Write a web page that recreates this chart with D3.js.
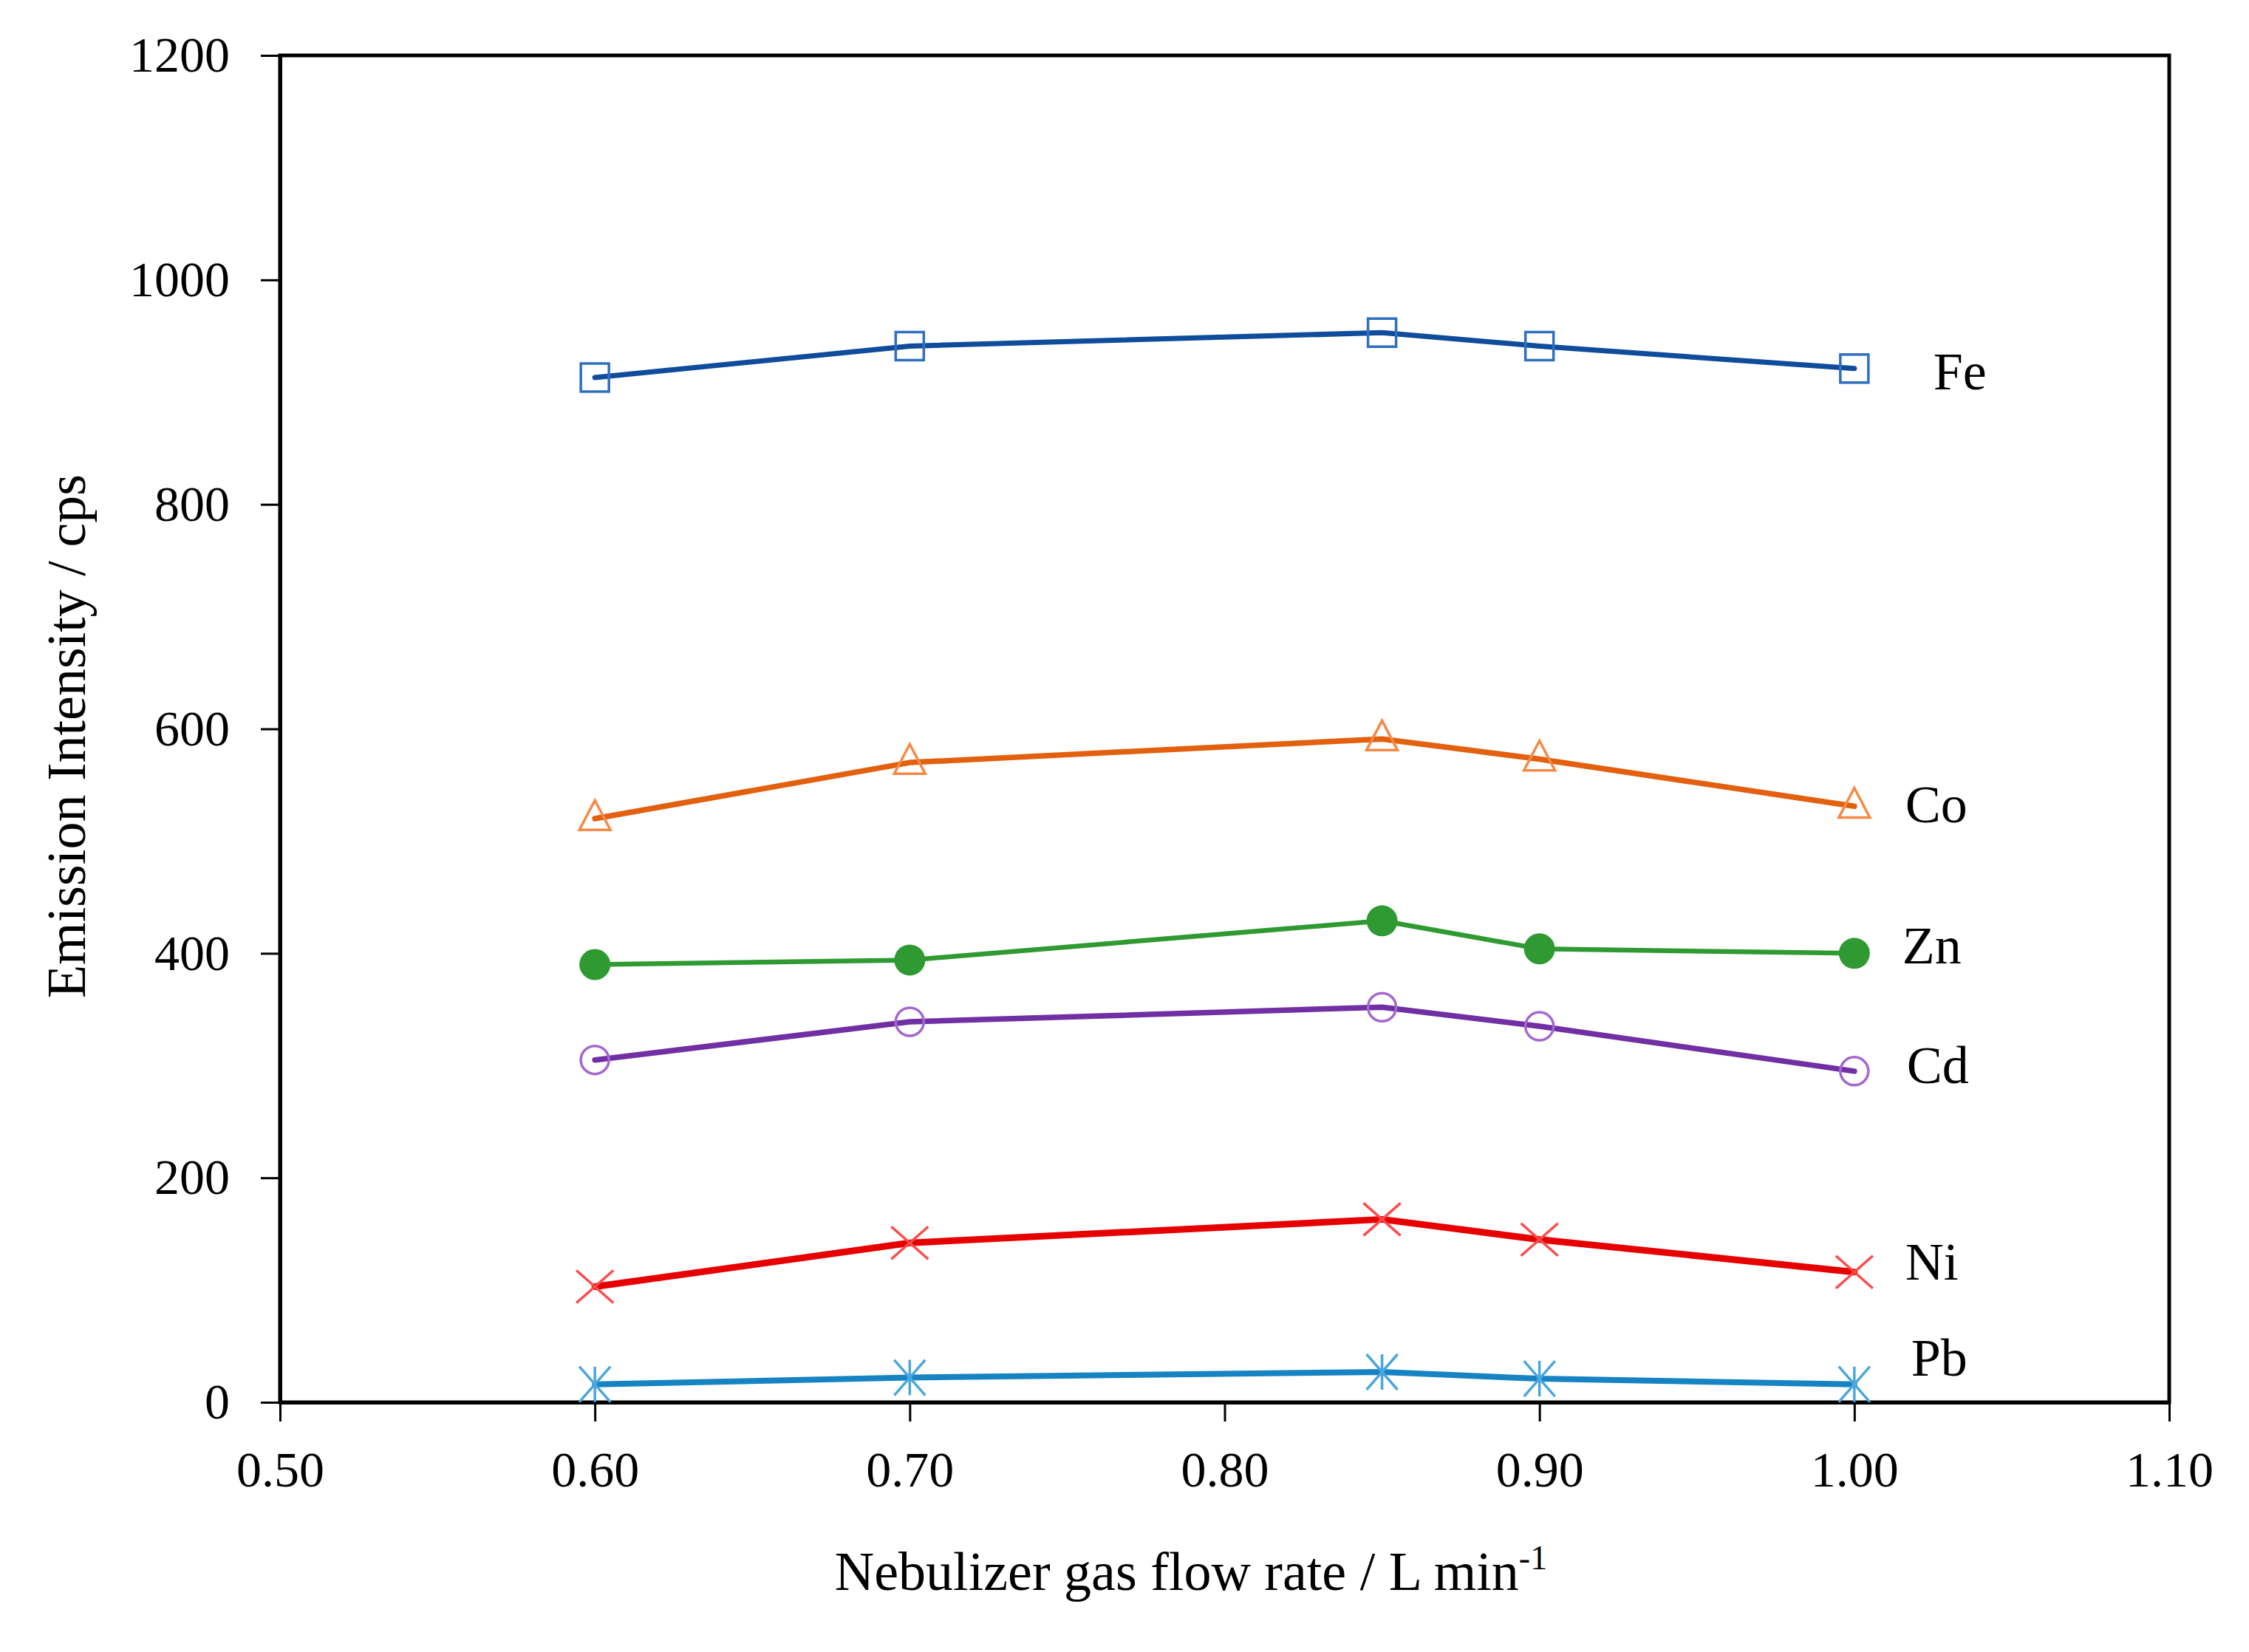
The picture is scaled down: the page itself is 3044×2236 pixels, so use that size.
<!DOCTYPE html>
<html>
<head>
<meta charset="utf-8">
<script src="https://cdn.jsdelivr.net/npm/d3@7/dist/d3.min.js"></script>
<style>
  html, body { margin: 0; padding: 0; background: #ffffff; }
  svg { display: block; }
  text { font-family: "Liberation Serif", "DejaVu Serif", serif; fill: #000; }
</style>
</head>
<body>
<svg id="chart" width="3044" height="2236"></svg>
<script>
// ---- data ----
const flowRates = [0.60, 0.70, 0.85, 0.90, 1.00];
const elements  = ["Fe", "Co", "Zn", "Cd", "Ni", "Pb"];
const feValues  = [913, 941, 953, 941, 921];
const coValues  = [520, 570, 591, 573, 531];
const znValues  = [390, 394, 429, 404, 400];
const cdValues  = [305, 339, 352, 335, 295];
const niValues  = [103, 142, 163, 145, 116];
const pbValues  = [16, 22, 27, 21, 16];
const xTickValues = [0.50, 0.60, 0.70, 0.80, 0.90, 1.00, 1.10];
const yTickValues = [0, 200, 400, 600, 800, 1000, 1200];
const xTitle = "Nebulizer gas flow rate / L min";
const xTitleSup = "-1";
const yTitle = "Emission Intensity / cps";

const seriesValues = { Fe: feValues, Co: coValues, Zn: znValues, Cd: cdValues, Ni: niValues, Pb: pbValues };

// ---- styles ----
const style = {
  Fe: { line: "#0f4c9c", marker: "#2f6fc0", shape: "square",   lw: 7 },
  Co: { line: "#e2600e", marker: "#f58a45", shape: "triangle", lw: 7.5 },
  Zn: { line: "#2f9a32", marker: "#2f9a32", shape: "dot",      lw: 6.5 },
  Cd: { line: "#7030a4", marker: "#a466cf", shape: "circle",   lw: 7.5 },
  Ni: { line: "#e60000", marker: "#ff4a4a", shape: "x",        lw: 9 },
  Pb: { line: "#1683c2", marker: "#4aa6de", shape: "star",     lw: 8 }
};
// label offsets relative to last point (px)
const labelOffset = {
  Fe: [107, 28], Co: [69, 22], Zn: [65, 14], Cd: [71, 16], Ni: [69, 10], Pb: [77, -12]
};

const margin = { left: 379, right: 3044 - 2936, top: 75, bottom: 2236 - 1898 };
const W = 3044, H = 2236;
const svg = d3.select("#chart");

const x = d3.scaleLinear().domain([0.5, 1.1]).range([margin.left, W - margin.right]);
const y = d3.scaleLinear().domain([0, 1200]).range([H - margin.bottom, margin.top]);

const fontSize = 68;

// frame
svg.append("rect")
  .attr("x", x(0.5)).attr("y", y(1200))
  .attr("width", x(1.1) - x(0.5)).attr("height", y(0) - y(1200))
  .attr("fill", "none").attr("stroke", "#000").attr("stroke-width", 5);

// axes
const xAxis = d3.axisBottom(x).tickValues(xTickValues).tickFormat(d3.format(".2f"))
  .tickSizeOuter(0).tickSizeInner(26).tickPadding(40);
const gx = svg.append("g").attr("transform", `translate(0,${y(0)})`).call(xAxis);
gx.select(".domain").attr("stroke", "#000").attr("stroke-width", 5);
gx.selectAll(".tick line").attr("stroke", "#000").attr("stroke-width", 3);
gx.selectAll(".tick text").attr("font-size", fontSize)
  .attr("font-family", '"Liberation Serif", serif').attr("fill", "#000");

const yAxis = d3.axisLeft(y).tickValues(yTickValues).tickFormat(d3.format("d"))
  .tickSizeOuter(0).tickSizeInner(26).tickPadding(42);
const gy = svg.append("g").attr("transform", `translate(${x(0.5)},0)`).call(yAxis);
gy.select(".domain").attr("stroke", "#000").attr("stroke-width", 5);
gy.selectAll(".tick line").attr("stroke", "#000").attr("stroke-width", 3);
gy.selectAll(".tick text").attr("font-size", fontSize)
  .attr("font-family", '"Liberation Serif", serif').attr("fill", "#000");

// axis titles
const xt = svg.append("text")
  .attr("x", 1612).attr("y", 2152)
  .attr("text-anchor", "middle").attr("font-size", 74);
xt.append("tspan").text(xTitle);
xt.append("tspan").text(xTitleSup).attr("font-size", 46).attr("dy", -28);

svg.append("text")
  .attr("transform", `translate(115,${(y(0) + y(1200)) / 2 + 10}) rotate(-90)`)
  .attr("text-anchor", "middle").attr("font-size", 74)
  .text(yTitle);

// lines
const line = d3.line().x((d, i) => x(flowRates[i])).y(d => y(d));
const gSeries = svg.append("g");

elements.forEach(el => {
  const vals = seriesValues[el];
  const s = style[el];
  gSeries.append("path")
    .datum(vals)
    .attr("d", line)
    .attr("fill", "none")
    .attr("stroke", s.line)
    .attr("stroke-width", s.lw)
    .attr("stroke-linejoin", "round")
    .attr("stroke-linecap", "round");
});

// markers
function drawMarker(g, shape, cx, cy, color) {
  const sw = 3.5;
  if (shape === "square") {
    g.append("rect").attr("x", cx - 19).attr("y", cy - 19).attr("width", 38).attr("height", 38)
      .attr("fill", "none").attr("stroke", color).attr("stroke-width", sw);
  } else if (shape === "triangle") {
    const h = 40, w = 42;
    g.append("path")
      .attr("d", `M${cx},${cy - h * 0.62} L${cx + w / 2},${cy + h * 0.38} L${cx - w / 2},${cy + h * 0.38} Z`)
      .attr("fill", "none").attr("stroke", color).attr("stroke-width", sw);
  } else if (shape === "dot") {
    g.append("circle").attr("cx", cx).attr("cy", cy).attr("r", 21).attr("fill", color);
  } else if (shape === "circle") {
    g.append("circle").attr("cx", cx).attr("cy", cy).attr("r", 19)
      .attr("fill", "none").attr("stroke", color).attr("stroke-width", sw);
  } else if (shape === "x") {
    const a = 25, b = 22;
    g.append("path")
      .attr("d", `M${cx - a},${cy - b} L${cx + a},${cy + b} M${cx - a},${cy + b} L${cx + a},${cy - b}`)
      .attr("fill", "none").attr("stroke", color).attr("stroke-width", sw);
  } else if (shape === "star") {
    const a = 21, b = 24;
    g.append("path")
      .attr("d", `M${cx - a},${cy - b} L${cx + a},${cy + b} M${cx - a},${cy + b} L${cx + a},${cy - b} M${cx},${cy - b} L${cx},${cy + b}`)
      .attr("fill", "none").attr("stroke", color).attr("stroke-width", sw);
  }
}

elements.forEach(el => {
  const vals = seriesValues[el];
  const s = style[el];
  const g = gSeries.append("g");
  vals.forEach((v, i) => drawMarker(g, s.shape, x(flowRates[i]), y(v), s.marker));
});

// series labels
elements.forEach(el => {
  const vals = seriesValues[el];
  const last = vals.length - 1;
  svg.append("text")
    .attr("x", x(flowRates[last]) + labelOffset[el][0])
    .attr("y", y(vals[last]) + labelOffset[el][1])
    .attr("font-size", 72)
    .text(el);
});
</script>
</body>
</html>
